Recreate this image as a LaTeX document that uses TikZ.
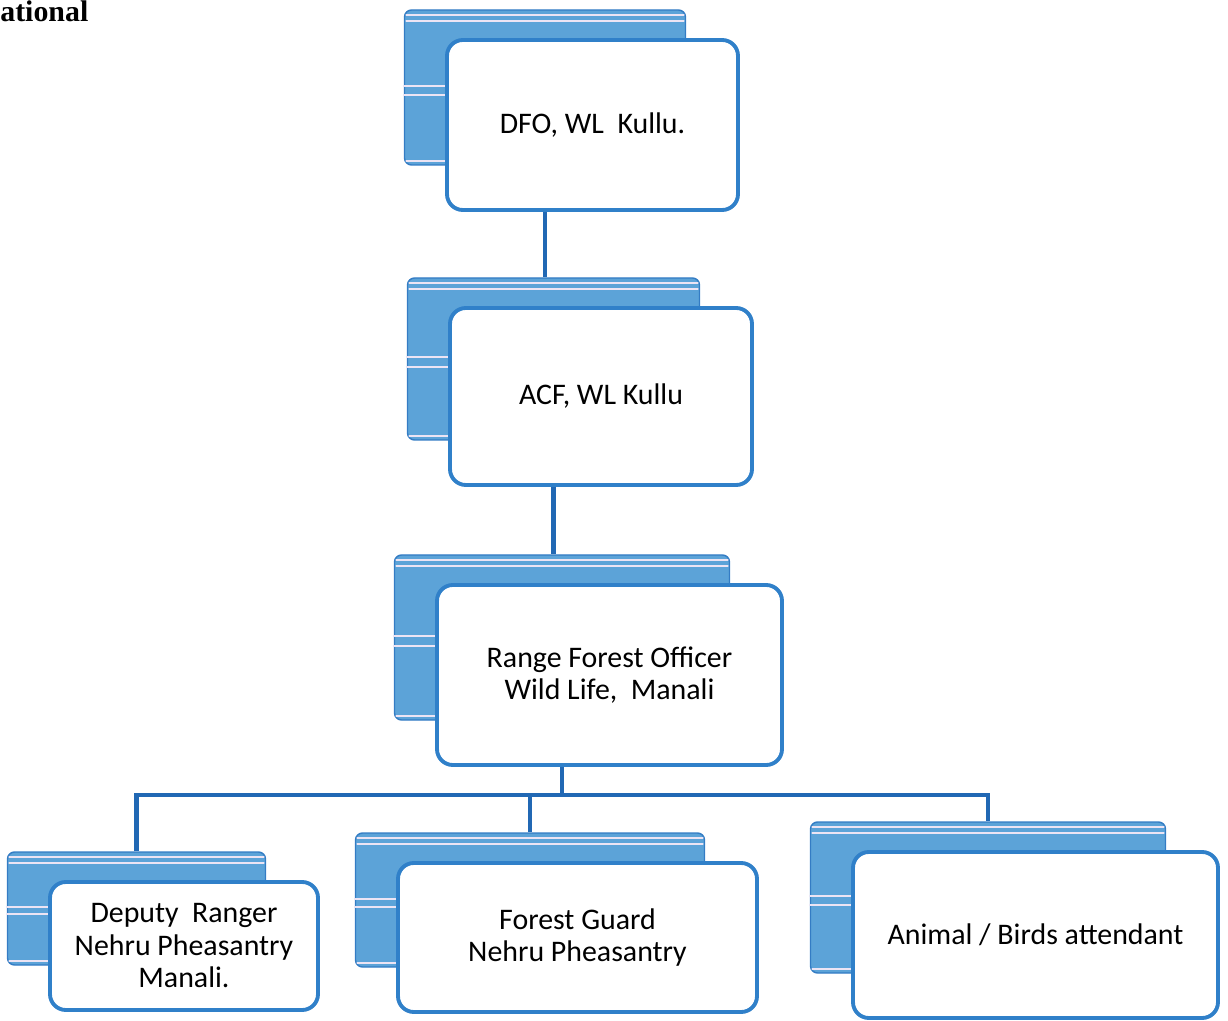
\documentclass[tikz,border=0pt]{standalone}
\usepackage{fontspec}
\setmainfont{Carlito}
\newfontfamily\scanfont{Liberation Serif}
\usetikzlibrary{calc}
\pgfdeclarelayer{background}
\pgfsetlayers{background,main}
\definecolor{cardblue}{RGB}{92,163,216}
\definecolor{backedge}{RGB}{52,124,196}
\definecolor{edgeblue}{RGB}{48,128,201}
\definecolor{linkblue}{RGB}{33,104,180}
\definecolor{stripecol}{RGB}{236,228,244}
\begin{document}
\begin{tikzpicture}[line join=round, line cap=round,
  back/.style={draw=backedge, fill=cardblue, line width=.8pt, rounded corners=4pt, inner sep=0pt},
  card/.style={draw=edgeblue, fill=white, line width=2.2pt, rounded corners=9pt, align=center, inner sep=0pt, font=\fontsize{17}{18.5}\selectfont},
  stripe/.style={draw=stripecol, line width=1.2pt},
  link/.style={draw=linkblue, line width=2.6pt, line cap=butt, line join=miter}]
\useasboundingbox (0,0) rectangle (24.56,-20.42);
\node[anchor=base west, inner sep=0pt, font=\scanfont\bfseries\fontsize{17}{17}\selectfont] (frag) at (0,-0.44) {ational};

% back cards
\node[back, minimum width=5.62cm, minimum height=3.1cm] (dfob) at (10.9,-1.75) {};
\node[back, minimum width=5.84cm, minimum height=3.24cm] (acfb) at (11.07,-7.18) {};
\node[back, minimum width=6.7cm, minimum height=3.3cm] (rfob) at (11.24,-12.75) {};
\node[back, minimum width=5.16cm, minimum height=2.26cm] (depb) at (2.73,-18.17) {};
\node[back, minimum width=6.98cm, minimum height=2.68cm] (fgb) at (10.6,-18.0) {};
\node[back, minimum width=7.1cm, minimum height=3.02cm] (attb) at (19.76,-17.95) {};
\foreach \n in {dfob,acfb,rfob,depb,fgb,attb}{
  \draw[stripe] ([shift={(.05,-.12)}]\n.north west) -- ([shift={(-.05,-.12)}]\n.north east);
  \draw[stripe] ([shift={(.05,-.24)}]\n.north west) -- ([shift={(-.05,-.24)}]\n.north east);
  \draw[stripe] ($(\n.north west)!.49!(\n.south west)$) -- ($(\n.north east)!.49!(\n.south east)$);
  \draw[stripe] ($(\n.north west)!.55!(\n.south west)$) -- ($(\n.north east)!.55!(\n.south east)$);
  \draw[stripe] ([shift={(.05,.1)}]\n.south west) -- ([shift={(-.05,.1)}]\n.south east);
}

% front cards
\node[card, minimum width=5.82cm, minimum height=3.4cm] (dfo) at ([shift={(.95,-.75)}]dfob.center) {DFO, WL\ \ Kullu.};
\node[card, minimum width=6.04cm, minimum height=3.54cm] (acf) at ([shift={(.95,-.75)}]acfb.center) {ACF, WL Kullu};
\node[card, minimum width=6.9cm, minimum height=3.6cm] (rfo) at ([shift={(.95,-.75)}]rfob.center) {Range Forest Officer\\Wild Life,\ \ Manali};
\node[card, minimum width=5.36cm, minimum height=2.56cm] (dep) at ([shift={(.95,-.75)}]depb.center) {Deputy\ \ Ranger\\Nehru Pheasantry\\Manali.};
\node[card, minimum width=7.18cm, minimum height=2.98cm] (fg) at ([shift={(.95,-.75)}]fgb.center) {Forest Guard\\Nehru Pheasantry};
\node[card, minimum width=7.3cm, minimum height=3.32cm] (att) at ([shift={(.95,-.75)}]attb.center) {Animal / Birds attendant};

\begin{pgfonlayer}{background}
\coordinate (bus) at (0,-15.9);
\draw[link] (dfob.south) -- (dfob.south |- acfb.north);
\draw[link] (acfb.south) -- (acfb.south |- rfob.north);
\draw[link] (rfob.south) -- (rfob.south |- bus);
\draw[link] (depb.north) -- (depb.north |- bus) -- (attb.north |- bus) -- (attb.north);
\draw[link] (fgb.north) -- (fgb.north |- bus);
\end{pgfonlayer}
\end{tikzpicture}
\end{document}
